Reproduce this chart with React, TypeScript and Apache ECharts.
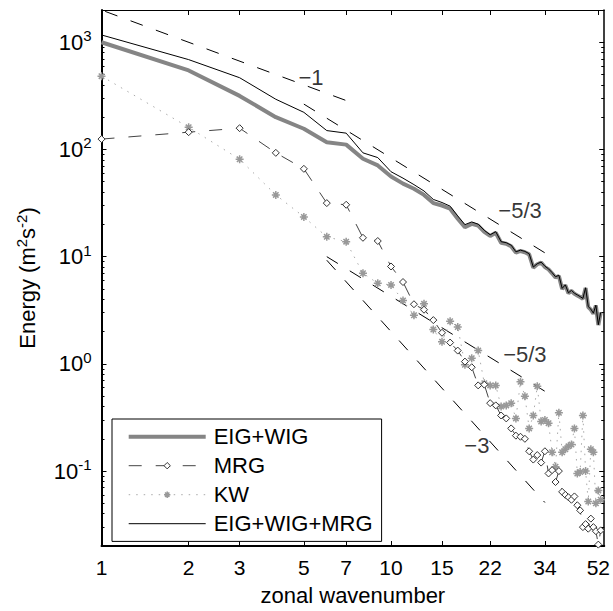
import React, { useEffect, useRef } from 'react';
import * as echarts from 'echarts';

const wavenumbers = [
  1, 2, 3, 4, 5, 6, 7, 8, 9, 10, 11, 12, 13, 14, 15, 16, 17, 18, 19, 20,
  21, 22, 23, 24, 25, 26, 27, 28, 29, 30, 31, 32, 33, 34, 35, 36, 37, 38, 39, 40,
  41, 42, 43, 44, 45, 46, 47, 48, 49, 50, 51, 52, 53,
];
const eigWig = [
  1000, 546, 316, 200, 156, 117, 111, 82, 71, 56, 48, 43, 37.7, 31.6, 30, 28, 22.6, 18.8, 20.2, 19.5,
  17, 15.6, 16.7, 13.5, 13.2, 12.5, 10.9, 11.3, 11.0, 10.5, 7.9, 8.5, 8.8, 8.0, 7.6, 7.0, 6.4, 6.6, 5.0, 5.4,
  4.56, 4.8, 4.5, 4.35, 4.2, 4.05, 5.1, 3.39, 3.2, 2.94, 3.5, 2.3, 3.0,
];
const mrg = [
  125, 145, 158, 93, 66, 31.6, 30.5, 15, 14, 8.1, 5.8, 3.6, 3.2, 2.56, 1.95, 1.58, 1.33, 1.05, 0.93, 0.63,
  0.64, 0.43, 0.41, 0.33, 0.31, 0.25, 0.214, 0.209, 0.2, 0.153, 0.128, 0.141, 0.12, 0.153, 0.095, 0.102, 0.079, 0.1, 0.064, 0.06,
  0.057, 0.054, 0.058, 0.048, 0.043, 0.03, 0.032, 0.029, 0.036, 0.03, 0.0275, 0.0206, 0.028,
];
const kw = [
  483, 161, 81, 37.7, 23.5, 15.3, 13.8, 7.0, 5.65, 5.45, 3.9, 2.84, 3.63, 2.09, 1.61, 2.5, 2.21, 0.98, 1.13, 1.33,
  0.66, 0.63, 0.63, 0.4, 0.41, 0.43, 0.31, 0.68, 0.5, 0.25, 0.33, 0.62, 0.29, 0.3, 0.28, 0.15, 0.11, 0.35, 0.15, 0.16,
  0.17, 0.177, 0.25, 0.095, 0.098, 0.33, 0.1, 0.052, 0.16, 0.15, 0.05, 0.066, 0.054,
];
const eigWigMrg = [
  1170, 689, 467, 294, 222, 150, 142, 93, 84, 62, 54, 47, 41, 34.2, 32, 29.6, 24, 19.9, 21.1, 20.1,
  17.6, 16, 17.1, 13.8, 13.5, 12.8, 11.1, 11.5, 11.2, 10.65, 8.0, 8.6, 8.9, 8.15, 7.7, 7.1, 6.5, 6.7, 5.06, 5.46,
  4.6, 4.85, 4.56, 4.4, 4.24, 4.08, 5.13, 3.42, 3.24, 2.97, 3.53, 2.32, 3.03,
];

const xTickValues = [1, 2, 3, 5, 7, 10, 15, 22, 34, 52];
const yTickValues = [0.1, 1, 10, 100, 1000];
const yMinorTickValues = [
  0.03, 0.04, 0.05, 0.06, 0.07, 0.08, 0.09,
  0.2, 0.3, 0.4, 0.5, 0.6, 0.7, 0.8, 0.9,
  2, 3, 4, 5, 6, 7, 8, 9,
  20, 30, 40, 50, 60, 70, 80, 90,
  200, 300, 400, 500, 600, 700, 800, 900,
];

const refSlopeMinus1 = [[1.03, 1940], [7, 286]];
const refSlopeMinus53Upper = [[5, 265], [37, 9.43]];
const refSlopeMinus53Lower = [[6, 10], [34, 0.555]];
const refSlopeMinus3 = [[6, 9.26], [34, 0.0509]];
const refLabelTexts = ['\u22121', '\u22125/3', '\u22125/3', '\u22123'];
const refLabelPositions = [[5.29, 470], [27.9, 27.2], [29.0, 1.22], [19.8, 0.172]];

const FONT = '"Liberation Sans", Arial, Helvetica, sans-serif';
const KW_SYMBOL = 'path://M0,5L10,5M5,0L5,10M1.6,1.6L8.4,8.4M8.4,1.6L1.6,8.4';

const STYLE_EIG = { line: { color: '#858585', width: 4 } };
const STYLE_MRG = {
  line: { color: '#444', width: 1, type: [13, 14] },
  item: { color: '#fff', borderColor: '#333', borderWidth: 1 },
};
const STYLE_KW = {
  line: { color: '#aaa', width: 1, type: [1.5, 6] },
  item: { color: 'rgba(0,0,0,0)', borderColor: '#999', borderWidth: 1.5 },
};
const STYLE_ALL = { line: { color: '#000', width: 1 } };
const HIDDEN_ITEM = { color: 'rgba(0,0,0,0)', borderColor: 'rgba(0,0,0,0)', borderWidth: 0 };

const zip = (xs: number[], ys: number[]) => xs.map((x, i) => [x, ys[i]]);

export default function App() {
  const ref = useRef<HTMLDivElement>(null);
  useEffect(() => {
    if (!ref.current) return;
    const chart = echarts.init(ref.current, null, { renderer: 'svg' });
    const refLine = (data: number[][]) => ({
      type: 'line',
      data,
      symbol: 'none',
      silent: true,
      lineStyle: { color: '#000', width: 1, type: [13, 14] },
      z: 2,
    });
    const yLabelRich = {
      b: { fontSize: 22, fontFamily: FONT, color: '#000', lineHeight: 28 },
      s: { fontSize: 15, fontFamily: FONT, color: '#000', verticalAlign: 'top', lineHeight: 15 },
    };
    const commonY = { type: 'log', logBase: 10, min: 0.02, max: 2000, splitLine: { show: false }, minorTick: { show: false } };
    const option = {
      animation: false,
      backgroundColor: '#fff',
      grid: { left: 101.5, right: 6.5, top: 10, bottom: 59.5, containLabel: false },
      legend: {
        show: true,
        data: [
          { name: 'EIG+WIG', itemStyle: HIDDEN_ITEM, lineStyle: STYLE_EIG.line },
          { name: 'MRG', itemStyle: STYLE_MRG.item, lineStyle: STYLE_MRG.line },
          { name: 'KW', itemStyle: STYLE_KW.item, lineStyle: STYLE_KW.line },
          { name: 'EIG+WIG+MRG', itemStyle: HIDDEN_ITEM, lineStyle: STYLE_ALL.line },
        ],
        orient: 'vertical',
        left: 112,
        top: 419,
        itemWidth: 77,
        itemHeight: 8,
        itemGap: 7,
        padding: [6.7, 9, 6.7, 14.7],
        borderColor: '#000',
        borderWidth: 1,
        backgroundColor: '#fff',
        selectedMode: false,
        z: 10,
        textStyle: { fontSize: 22, fontFamily: FONT, color: '#000', padding: [0, 0, 0, 3] },
      },
      xAxis: [
        {
          type: 'log',
          logBase: 10,
          min: 1,
          max: 54.5,
          position: 'bottom',
          splitLine: { show: false },
          minorTick: { show: false },
          axisLine: { show: true, lineStyle: { color: '#000', width: 2 } },
          axisTick: { show: true, inside: true, length: 5, customValues: xTickValues, lineStyle: { color: '#000', width: 1 } },
          axisLabel: {
            show: true,
            customValues: xTickValues,
            formatter: (v: number) => String(Math.round(v)),
            fontSize: 21,
            fontFamily: FONT,
            color: '#000',
            margin: 11,
          },
          name: 'zonal wavenumber',
          nameLocation: 'middle',
          nameGap: 38,
          nameTextStyle: { fontSize: 22, fontFamily: FONT, color: '#000' },
        },
        {
          type: 'log',
          logBase: 10,
          min: 1,
          max: 54.5,
          position: 'top',
          splitLine: { show: false },
          minorTick: { show: false },
          axisLine: { show: true, lineStyle: { color: '#000', width: 1 } },
          axisTick: { show: true, inside: true, length: 5, customValues: xTickValues, lineStyle: { color: '#000', width: 1 } },
          axisLabel: { show: false },
        },
      ],
      yAxis: [
        {
          ...commonY,
          position: 'left',
          axisLine: { show: true, lineStyle: { color: '#000', width: 2 } },
          axisTick: { show: true, inside: true, length: 5, customValues: yTickValues, lineStyle: { color: '#000', width: 1 } },
          axisLabel: {
            show: true,
            customValues: yTickValues,
            formatter: (v: number) => `{b|10}{s|${Math.round(Math.log10(v))}}`,
            rich: yLabelRich,
            margin: 10,
          },
          name: '{n|Energy (m}{s|2}{n|s}{s|-2}{n|)}',
          nameLocation: 'middle',
          nameRotate: 90,
          nameGap: 60,
          nameTextStyle: {
            rich: {
              n: { fontSize: 22, fontFamily: FONT, color: '#000', lineHeight: 28 },
              s: { fontSize: 15, fontFamily: FONT, color: '#000', verticalAlign: 'top', lineHeight: 15 },
            },
          },
        },
        {
          ...commonY,
          position: 'left',
          axisLine: { show: false },
          axisTick: { show: true, inside: true, length: 3, customValues: yMinorTickValues, lineStyle: { color: '#000', width: 1 } },
          axisLabel: { show: false },
        },
        {
          ...commonY,
          position: 'right',
          axisLine: { show: true, lineStyle: { color: '#000', width: 1.5 } },
          axisTick: { show: true, inside: true, length: 5, customValues: yTickValues, lineStyle: { color: '#000', width: 1 } },
          axisLabel: { show: false },
        },
        {
          ...commonY,
          position: 'right',
          axisLine: { show: false },
          axisTick: { show: true, inside: true, length: 3, customValues: yMinorTickValues, lineStyle: { color: '#000', width: 1 } },
          axisLabel: { show: false },
        },
      ],
      series: [
        refLine(refSlopeMinus1),
        refLine(refSlopeMinus53Upper),
        refLine(refSlopeMinus53Lower),
        refLine(refSlopeMinus3),
        {
          name: 'KW',
          type: 'line',
          data: zip(wavenumbers, kw),
          symbol: KW_SYMBOL,
          symbolSize: 8,
          showAllSymbol: true,
          lineStyle: STYLE_KW.line,
          itemStyle: STYLE_KW.item,
          z: 3,
        },
        {
          name: 'EIG+WIG',
          type: 'line',
          data: zip(wavenumbers, eigWig),
          symbol: 'none',
          lineStyle: STYLE_EIG.line,
          itemStyle: { color: '#858585' },
          z: 4,
        },
        {
          name: 'MRG',
          type: 'line',
          data: zip(wavenumbers, mrg),
          symbol: 'diamond',
          symbolSize: 7,
          showAllSymbol: true,
          lineStyle: STYLE_MRG.line,
          itemStyle: STYLE_MRG.item,
          z: 5,
        },
        {
          name: 'EIG+WIG+MRG',
          type: 'line',
          data: zip(wavenumbers, eigWigMrg),
          symbol: 'none',
          lineStyle: STYLE_ALL.line,
          itemStyle: { color: '#000' },
          z: 6,
        },
        {
          type: 'scatter',
          silent: true,
          data: refLabelPositions.map((p, i) => ({ name: refLabelTexts[i], value: p })),
          symbolSize: 1,
          itemStyle: { color: 'rgba(0,0,0,0)' },
          label: { show: true, position: 'inside', formatter: '{b}', fontSize: 22, fontFamily: FONT, color: '#000' },
          z: 7,
        },
      ],
    };
    chart.setOption(option as any);
    return () => chart.dispose();
  }, []);
  return <div ref={ref} style={{ position: 'absolute', left: 0, top: 0, width: 613, height: 611 }} />;
}
